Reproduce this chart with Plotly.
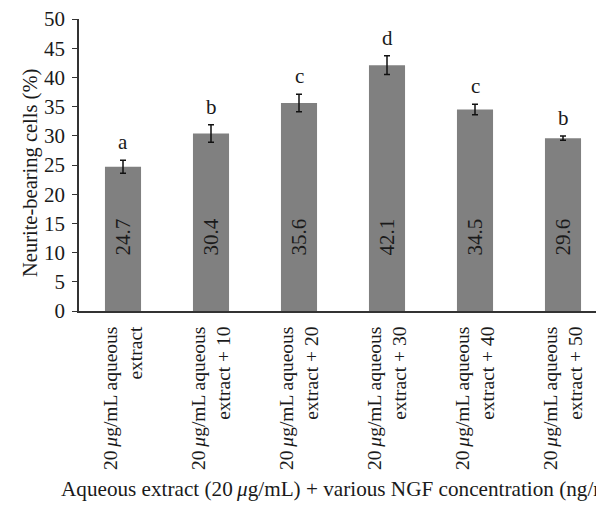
import plotly.graph_objects as go

# Treatment groups (x axis) and measured neurite-bearing cell percentages
categories = [
    "20\u2009<i>μ</i>g/mL aqueous<br>extract",
    "20\u2009<i>μ</i>g/mL aqueous<br>extract + 10",
    "20\u2009<i>μ</i>g/mL aqueous<br>extract + 20",
    "20\u2009<i>μ</i>g/mL aqueous<br>extract + 30",
    "20\u2009<i>μ</i>g/mL aqueous<br>extract + 40",
    "20\u2009<i>μ</i>g/mL aqueous<br>extract + 50",
]
means = [24.7, 30.4, 35.6, 42.1, 34.5, 29.6]
errors = [1.1, 1.5, 1.5, 1.6, 0.9, 0.35]
letters = ["a", "b", "c", "d", "c", "b"]
y_ticks = list(range(0, 51, 5))

FONT = "Liberation Serif"
INK = "#1a1a1a"
W, H = 596, 511
ML, MR, MT, MB = 79, 0, 19, 200
PW, PH = W - ML - MR, H - MT - MB

fig = go.Figure()
fig.add_trace(go.Bar(
    x=list(range(len(categories))),
    y=means,
    width=0.41,
    marker=dict(color="#808080", line=dict(width=0)),
    error_y=dict(type="data", array=errors, visible=True,
                 color="#111111", thickness=1.5, width=3),
    hoverinfo="skip",
))

annotations = []
# value labels written vertically inside each bar at a common height
for i, v in enumerate(means):
    annotations.append(dict(
        x=i, y=12.6, xref="x", yref="y", text=f"{v:.1f}",
        textangle=-90, showarrow=False,
        font=dict(family=FONT, size=21, color=INK),
    ))
# significance letters above the error bars
for i, (v, e, t) in enumerate(zip(means, errors, letters)):
    annotations.append(dict(
        x=i, y=v + e, xref="x", yref="y", text=t,
        yanchor="bottom", yshift=4, showarrow=False,
        font=dict(family=FONT, size=21, color=INK),
    ))
# y axis title
annotations.append(dict(
    x=(30 - ML) / PW, y=(H - MB - 173) / PH, xref="paper", yref="paper",
    xanchor="center", yanchor="middle", textangle=-90, showarrow=False,
    text="Neurite-bearing cells (%)",
    font=dict(family=FONT, size=20.5, color=INK),
))
# x axis title, running past the right edge of the figure
annotations.append(dict(
    x=(59 - ML) / PW, y=-0.61, xref="paper", yref="paper",
    xanchor="left", yanchor="middle", showarrow=False,
    text="Aqueous extract (20\u2009<i>μ</i>g/mL) + various NGF concentration (ng/mL)",
    font=dict(family=FONT, size=21.2, color=INK),
))

fig.update_layout(
    width=W, height=H,
    margin=dict(l=ML, r=MR, t=MT, b=MB, pad=0),
    paper_bgcolor="white", plot_bgcolor="white",
    showlegend=False,
    font=dict(family=FONT, size=20, color=INK),
    annotations=annotations,
    xaxis=dict(
        range=[-0.5, 5.375],
        tickmode="array", tickvals=list(range(len(categories))),
        ticktext=categories, tickangle=-90,
        tickfont=dict(family=FONT, size=19.5, color=INK),
        ticklabelstandoff=6,
        showline=True, linecolor="#333333", linewidth=1.5,
        ticks="", showgrid=False, zeroline=False,
    ),
    yaxis=dict(
        range=[0, 50], tickvals=y_ticks,
        tickfont=dict(family=FONT, size=21, color=INK),
        ticklabelstandoff=3,
        showline=True, linecolor="#333333", linewidth=1.5,
        ticks="outside", ticklen=5, tickcolor="#333333", tickwidth=1,
        showgrid=False, zeroline=False,
    ),
)

fig.write_html("out.html")
